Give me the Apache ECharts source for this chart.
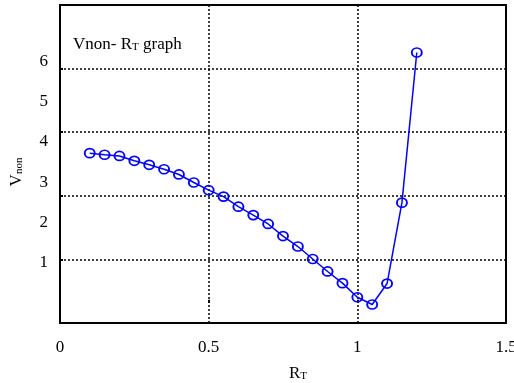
<!DOCTYPE html>
<html>
<head>
<meta charset="utf-8">
<script src="https://cdn.jsdelivr.net/npm/echarts@6/dist/echarts.min.js"></script>
<style>
  html, body { margin: 0; padding: 0; background: #fff; }
  #main { width: 514px; height: 383px; }
</style>
</head>
<body>
<div id="main"></div>
<script>
// R_T values (x) and Vnon values (y)
var rT = [0.10, 0.15, 0.20, 0.25, 0.30, 0.35, 0.40, 0.45, 0.50, 0.55, 0.60, 0.65,
          0.70, 0.75, 0.80, 0.85, 0.90, 0.95, 1.00, 1.05, 1.10, 1.15, 1.20];
var vNon = [3.72, 3.68, 3.65, 3.53, 3.43, 3.32, 3.19, 2.99, 2.80, 2.64, 2.39, 2.18,
            1.96, 1.66, 1.40, 1.09, 0.78, 0.49, 0.14, -0.04, 0.48, 2.49, 6.22];
var xTicks = [0, 0.5, 1, 1.5];
var yTicks = [1, 2, 3, 4, 5, 6];

var serif = 'Liberation Serif';
var myChart = echarts.init(document.getElementById('main'));

var points = rT.map(function (x, i) { return [x, vNon[i]]; });

// 下标文字样式
var subRich = {
    a: { fontFamily: serif, fontSize: 17, color: '#000', lineHeight: 20, verticalAlign: 'bottom' },
    s: { fontFamily: serif, fontSize: 11, color: '#000', lineHeight: 15, verticalAlign: 'bottom' }
};

var option = {
    animation: false,
    grid: {
        left: 60, right: 8, top: 5, bottom: 60,
        outerBoundsMode: 'none',
        containLabel: false,
        show: true,
        borderColor: '#000',
        borderWidth: 2,
        backgroundColor: '#fff'
    },
    graphic: [{
        type: 'text',
        left: 73,
        top: 36,
        style: { text: '{a|Vnon- R}{s|T}{a| graph}', rich: subRich }
    }, {
        // y axis title
        type: 'text',
        x: 15,
        y: 172,
        rotation: Math.PI / 2,
        style: {
            text: '{a|V}{s|non}',
            rich: subRich,
            align: 'center',
            verticalAlign: 'middle'
        }
    }, {
        // x axis title
        type: 'text',
        x: 298,
        y: 372,
        style: {
            text: '{a|R}{s|T}',
            rich: subRich,
            align: 'center',
            verticalAlign: 'middle'
        }
    }],
    xAxis: {
        type: 'value',
        min: 0,
        max: 1.5,
        interval: 0.5,
        axisLine: { show: false },
        axisTick: { show: true, inside: true, length: 3, lineStyle: { color: '#000', width: 2 } },
        axisLabel: {
            fontFamily: serif, fontSize: 17, color: '#000', margin: 16,
            customValues: xTicks,
            formatter: function (v) { return String(v); }
        },
        splitLine: { show: true, lineStyle: { color: '#000', width: 1.5, type: [2, 2] } }
    },
    yAxis: [{
        type: 'value',
        min: -0.5,
        max: 7.4,
        axisLine: { show: false },
        axisTick: { show: false },
        axisLabel: {
            fontFamily: serif, fontSize: 17, color: '#000', margin: 12,
            padding: [10, 0, 0, 0],
            customValues: yTicks
        },
        splitLine: { show: false }
    }, {
        // gridlines of the original lie on their own even spacing
        type: 'value',
        position: 'left',
        min: 0,
        max: 5,
        interval: 1,
        axisLine: { show: false },
        axisTick: { show: true, inside: true, length: 3, lineStyle: { color: '#000', width: 2 } },
        axisLabel: { show: false },
        splitLine: { show: true, lineStyle: { color: '#000', width: 1.5, type: [2, 2] } }
    }],
    series: [{
        type: 'line',
        yAxisIndex: 0,
        data: points,
        symbol: 'circle',
        symbolSize: [10, 9],
        showSymbol: true,
        lineStyle: { color: '#0000ff', width: 1.5 },
        itemStyle: { color: 'rgba(0,0,0,0)', borderColor: '#0000ff', borderWidth: 1.8 },
        z: 5
    }]
};

myChart.setOption(option);
</script>
</body>
</html>
